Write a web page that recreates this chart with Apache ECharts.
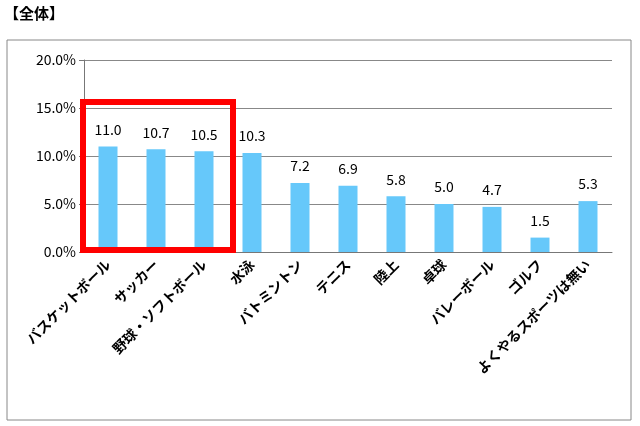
<!DOCTYPE html>
<html><head><meta charset="utf-8">
<script src="https://cdn.jsdelivr.net/npm/echarts@6/dist/echarts.min.js"></script>
<style>body{margin:0;background:#fff}#c{width:640px;height:426px}</style>
</head><body><div id="c"></div>
<script>
var categories = ['バスケットボール','サッカー','野球・ソフトボール','水泳','バトミントン','テニス','陸上','卓球','バレーボール','ゴルフ','よくやるスポーツは無い'];
var values = [11.0, 10.7, 10.5, 10.3, 7.2, 6.9, 5.8, 5.0, 4.7, 1.5, 5.3];
var yTicks = [0, 5, 10, 15, 20];

var chart = echarts.init(document.getElementById('c'));
chart.setOption({
  animation: false,
  textStyle: {fontFamily: 'Noto Sans CJK JP'},
  graphic: [
    {type: 'text', left: 4, top: 6, style: {text: '【全体】', font: 'bold 15px "Noto Sans CJK JP"', fill: '#000'}},
    {type: 'rect', shape: {x: 7, y: 40, width: 624, height: 380}, style: {fill: 'none', stroke: '#888', lineWidth: 1}},
    {type: 'rect', shape: {x: 83, y: 102, width: 150, height: 148}, style: {fill: 'none', stroke: '#f00', lineWidth: 6}, z: 10}
  ],
  grid: {left: 84, right: 28, top: 60, bottom: 174},
  xAxis: {
    type: 'category', data: categories,
    axisLine: {lineStyle: {color: '#777'}},
    axisTick: {lineStyle: {color: '#777'}},
    axisLabel: {rotate: 45, interval: 0, color: '#000', fontSize: 14, fontWeight: 'bold', margin: 10}
  },
  yAxis: {
    type: 'value', min: 0, max: 20, interval: 5,
    axisLine: {show: true, lineStyle: {color: '#777'}},
    axisTick: {show: true, lineStyle: {color: '#777'}},
    splitLine: {lineStyle: {color: '#888'}},
    axisLabel: {color: '#000', fontSize: 14, formatter: function (v) { return v.toFixed(1) + '%'; }}
  },
  series: [{
    type: 'bar', data: values, barWidth: 19,
    itemStyle: {color: '#66C8FA'},
    label: {show: true, position: 'top', distance: 10, color: '#000', fontSize: 14, formatter: function (p) { return p.value.toFixed(1); }}
  }]
});
</script></body></html>
